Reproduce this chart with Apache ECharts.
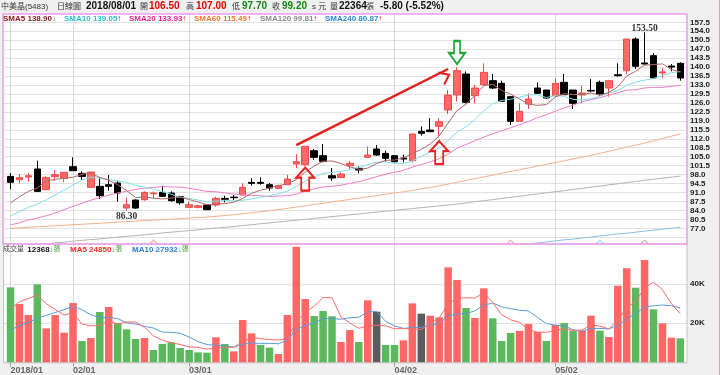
<!DOCTYPE html>
<html>
<head>
<meta charset="utf-8">
<script src="https://cdn.jsdelivr.net/npm/echarts@6.0.0/dist/echarts.min.js"></script>
<style>
html,body{margin:0;padding:0;background:#f0f0f0;}
#chart{width:720px;height:375px;}
</style>
</head>
<body>
<div id="chart"></div>
<script>
// ---------------- data ----------------
const dates = [
 '2018/01/23','2018/01/24','2018/01/25','2018/01/26','2018/01/29','2018/01/30','2018/01/31',
 '2018/02/01','2018/02/02','2018/02/05','2018/02/06','2018/02/07','2018/02/08','2018/02/09','2018/02/12','2018/02/21','2018/02/22','2018/02/23','2018/02/26','2018/02/27',
 '2018/03/01','2018/03/02','2018/03/05','2018/03/06','2018/03/07','2018/03/08','2018/03/09','2018/03/12','2018/03/13','2018/03/14','2018/03/15','2018/03/16','2018/03/19','2018/03/20','2018/03/21','2018/03/22','2018/03/23','2018/03/26','2018/03/27','2018/03/28','2018/03/29','2018/03/30','2018/03/31',
 '2018/04/02','2018/04/03','2018/04/09','2018/04/10','2018/04/11','2018/04/12','2018/04/13','2018/04/16','2018/04/17','2018/04/18','2018/04/19','2018/04/20','2018/04/23','2018/04/24','2018/04/25','2018/04/26','2018/04/27','2018/04/30',
 '2018/05/02','2018/05/03','2018/05/04','2018/05/07','2018/05/08','2018/05/09','2018/05/10','2018/05/11','2018/05/14','2018/05/15','2018/05/16','2018/05/17','2018/05/18','2018/05/21','2018/05/22'
];
const opens = [97.30,96.00,97.04,100.17,92.09,97.17,96.52,101.08,98.48,93.00,
 93.40,94.05,94.70,84.93,88.06,88.19,90.50,91.05,90.79,89.36,
 85.19,85.19,86.10,86.10,88.71,89.20,90.01,94.96,94.96,94.05,
 92.61,94.05,102.12,101.86,107.33,105.38,97.56,96.91,101.47,100.43,
 104.73,107.98,106.29,105.38,104.47,103.43,114.89,115.41,116.84,123.23,
 129.09,137.29,128.83,133.12,134.69,133.65,128.44,118.80,125.57,131.82,
 131.04,128.83,134.04,131.04,129.09,130.90,134.04,131.82,137.00,138.60,
 150.97,141.60,144.46,137.70,140.40,141.46];
const closes = [94.96,96.78,97.56,91.44,96.91,97.95,98.87,99.52,97.30,99.00,
 89.75,93.40,90.79,86.23,84.93,91.05,90.80,89.49,87.79,87.00,
 86.23,85.84,84.28,88.71,88.32,88.97,93.00,94.57,94.57,92.74,
 93.66,96.26,103.03,109.03,104.73,103.17,96.65,98.22,102.38,99.78,
 105.64,105.64,104.34,103.03,104.08,113.85,114.11,114.76,118.67,129.09,
 138.60,126.22,131.82,137.94,131.82,126.61,118.80,122.70,127.52,129.74,
 127.91,133.65,129.22,125.83,129.87,130.65,129.48,134.69,136.65,150.97,
 140.29,141.20,135.73,138.10,140.00,135.73];
const lows = [92.35,94.57,95.22,91.44,92.09,95.61,94.96,99.52,96.00,93.00,
 88.45,91.70,87.40,83.89,84.54,87.79,88.71,89.36,87.40,86.23,
 85.19,84.80,84.28,85.45,87.14,88.06,90.01,93.66,94.05,91.70,
 92.35,94.05,100.56,101.47,103.82,102.77,95.61,96.65,100.17,98.48,
 104.47,105.38,103.03,102.77,102.77,102.77,113.20,114.76,112.54,121.66,
 126.61,125.83,125.83,132.73,131.43,126.61,117.36,118.80,123.62,129.74,
 127.52,128.44,129.22,123.62,125.83,130.13,128.83,128.44,136.25,137.29,
 139.25,140.94,135.34,135.73,138.34,134.69];
const highs = [98.61,98.22,98.61,103.43,97.30,99.78,98.87,104.73,99.26,99.00,
 96.91,97.82,95.61,89.10,88.32,91.44,91.44,93.66,91.44,89.75,
 87.53,86.23,86.23,89.36,89.75,90.01,94.57,96.52,96.91,94.70,
 94.05,97.95,106.03,109.03,107.98,109.94,100.56,98.87,103.43,101.21,
 108.90,109.55,107.33,105.38,105.77,113.85,116.84,120.10,119.97,131.04,
 139.90,138.34,133.12,141.46,137.29,134.69,128.44,125.83,129.74,134.04,
 131.04,135.60,137.29,131.04,132.73,135.34,134.69,134.69,141.46,150.97,
 151.62,153.58,145.50,139.64,141.20,141.85];

const sma5 = [86.88,89.36,91.44,92.74,95.53,96.13,96.55,96.94,98.11,98.53,
 96.89,95.79,94.05,91.83,89.02,89.28,88.76,88.50,88.81,89.23,
 88.26,87.27,86.23,86.41,86.68,87.22,88.66,90.71,91.89,92.77,
 93.71,94.36,96.05,98.94,101.34,103.24,103.32,102.36,101.03,100.04,
 100.53,102.33,103.56,103.69,104.55,106.19,107.88,109.97,113.09,118.10,
 123.05,125.47,128.88,132.73,133.28,130.88,129.40,127.57,125.49,125.07,
 125.33,128.30,129.61,129.27,129.30,129.84,129.01,130.10,132.27,136.49,
 138.42,140.76,140.97,141.26,139.06,138.15];
const sma10 = [81.9,83.5,85.2,86.5,88.2,90.0,92.0,94.0,95.8,97.03,
 96.51,96.17,95.49,94.97,93.77,93.08,92.28,91.27,90.32,89.12,
 88.77,88.02,87.36,87.61,87.95,87.74,87.96,88.47,89.15,89.72,
 90.47,91.51,93.38,95.42,97.06,98.48,98.84,99.21,99.99,100.69,
 101.89,102.83,102.96,102.36,102.29,103.36,105.11,106.76,108.39,111.32,
 114.62,116.68,119.42,122.91,125.69,126.96,127.43,128.23,129.11,129.18,
 128.11,128.85,128.59,127.38,127.19,127.59,128.66,129.86,130.77,132.89,
 134.13,134.89,135.54,136.76,137.78,138.28];
const sma20 = [78.28,79.2,80.24,81.0,81.93,82.97,84.3,85.6,86.8,88.0,
 89.0,90.0,90.8,91.5,92.2,92.7,93.0,93.3,93.2,93.08,
 92.64,92.09,91.43,91.29,90.86,90.41,90.12,89.87,89.74,89.42,
 89.62,89.76,90.37,91.51,92.50,93.11,93.40,93.84,94.57,95.21,
 96.18,97.17,98.17,98.89,99.67,100.92,101.97,102.98,104.19,106.01,
 108.25,109.75,111.19,112.64,113.99,115.16,116.27,117.49,118.75,120.25,
 121.36,122.76,124.01,125.15,126.44,127.28,128.05,129.04,129.94,131.03,
 131.12,131.87,132.06,132.07,132.48,132.94];
const sma60 = [77.0,77.2,77.4,77.6,77.8,78.0,78.2,78.4,78.6,78.8,
 79.0,79.2,79.4,79.6,79.8,80.0,80.2,80.4,80.6,80.8,
 81.0,81.2,81.4,81.7,82.0,82.3,82.7,83.1,83.5,83.9,
 84.3,84.8,85.3,85.8,86.3,86.8,87.3,87.8,88.3,88.8,
 89.3,89.8,90.3,90.8,91.3,91.8,92.4,93.0,93.6,94.3,
 95.0,95.7,96.4,97.1,97.8,98.5,99.2,99.9,100.6,101.3,
 102.0,102.7,103.4,104.1,104.8,105.5,106.3,107.1,107.9,108.7,
 109.5,110.3,111.2,112.1,113.0,113.9];
const sma120 = [69.8,70.1,70.4,70.7,71.0,71.3,71.6,72.0,72.3,72.6,
 72.9,73.2,73.6,73.9,74.2,74.5,74.8,75.2,75.5,75.8,
 76.1,76.4,76.8,77.1,77.4,77.7,78.1,78.4,78.8,79.1,
 79.5,79.8,80.2,80.5,80.9,81.2,81.6,81.9,82.3,82.6,
 83.0,83.3,83.7,84.0,84.4,84.7,85.1,85.4,85.8,86.1,
 86.5,86.9,87.4,87.8,88.2,88.7,89.1,89.5,90.0,90.4,
 90.9,91.3,91.7,92.2,92.6,93.1,93.5,94.0,94.4,94.9,
 95.3,95.8,96.2,96.6,97.0,97.4];
const sma240 = [null,null,null,null,null,null,null,null,null,null,
 null,null,null,null,null,null,null,null,null,null,
 null,null,null,null,null,null,null,null,null,null,
 null,null,null,null,null,null,null,null,null,null,
 null,null,null,null,null,null,null,null,null,null,
 null,null,null,null,null,null,70.1,70.5,70.9,71.3,
 71.7,72.1,72.5,72.8,73.2,73.6,74.0,74.4,74.8,75.1,
 75.5,75.9,76.3,76.7,77.0,77.4];

const volumes = [38300,29820,24220,39820,17440,24220,15230,30330,10990,12520,
 25750,28290,20150,16930,12010,12520,6410,9460,10310,7430,
 6410,5220,5050,12860,9460,5730,21680,14890,8950,7600,
 4380,24220,58990,32360,23710,26250,23540,10480,16590,10480,
 31680,25910,8950,8950,11330,30150,24900,23880,23030,48470,
 42030,27780,22690,37790,22520,10990,15060,16080,19640,15570,
 10990,19130,20150,16250,16250,23880,16250,13030,39140,47960,
 38130,52200,27100,19980,12690,12368];
// 1 = close above previous close (red), -1 = below (green), 0 = unchanged (grey)
const volDir = [-1,1,1,-1,1,1,1,1,-1,1,
 -1,1,-1,-1,-1,1,-1,-1,-1,-1,
 -1,-1,-1,1,-1,1,1,1,-1,-1,
 1,1,1,1,-1,-1,-1,1,1,-1,
 1,0,-1,-1,1,1,0,1,1,1,
 1,-1,1,1,-1,-1,-1,1,1,1,
 -1,1,-1,-1,1,1,-1,1,1,1,
 -1,1,-1,1,1,-1];
const volMa5 = [27270,31000,32600,34500,29920,27104,24186,25408,19642,18658,
 18964,21576,19540,20728,20626,17980,13604,11466,10142,9226,
 8004,7766,6884,7394,7800,7664,10956,12924,12142,11770,
 11500,12008,20828,25510,28732,33106,32970,23268,20114,17468,
 18554,19028,18722,17194,17364,17058,16856,19842,22658,30086,
 32462,33038,32800,35752,30562,24354,21810,20488,16858,15468,
 15468,16282,17096,16418,16554,19132,18556,17132,21710,28052,
 30902,38092,40906,37074,30020,24868];
const volMa10 = [16590,18790,20490,22500,24000,25500,27000,28500,27000,24289,
 23034,22881,22474,20185,19642,18472,17590,15503,15435,14926,
 12992,10685,9175,8768,8513,7834,9361,9904,9768,9785,
 9582,11482,16876,18826,20251,22303,22489,22048,22812,23100,
 25830,25999,20995,18654,17416,17806,17942,19282,19926,23725,
 24760,24947,26321,29205,30324,28408,27424,26644,26305,23015,
 19911,19046,18792,16638,16011,17300,17419,17114,19064,22203,
 24917,28224,28919,29295,28939,27788];

// annotation texts and anchors (category index, price)
const peakNote = {i: 71, text: '153.50'};
const troughNote = {i: 13, text: '86.30'};
const upArrows = [[33, 96.26], [48, 106.6]];
const downArrows = [[50, 145.7]];
const trendLine = [[32, 109.5], [49, 139.25]];
const signalMarks = [[16, '#f2a48c'], [56, '#f0a0c8'], [66, '#8edbe6'], [71, '#cfa0a0']];

const headerItems = [
 ['中美晶(5483)', 'cjk'], ['日線圖', 'cjk'], ['2018/08/01', 'b'],
 ['開', 'cjk'], ['106.50', 'r'], ['高', 'cjk'], ['107.00', 'r'],
 ['低', 'cjk'], ['97.70', 'g'], ['收', 'cjk'], ['99.20', 'g'], ['s 元', 'cjk'],
 ['量', 'cjk'], ['22364', 'b'], ['張', 'cjk'], ['-5.80 (-5.52%)', 'b']
];
const headerX = [1, 57, 86, 140, 149, 186, 196, 232, 242, 272, 282, 312, 330, 339, 366, 380];

const smaLegend = [
 ['SMA5', '138.90', -1, '#8b2020'],
 ['SMA10', '139.05', 1, '#2fbfd0'],
 ['SMA20', '133.93', 1, '#e8248c'],
 ['SMA60', '115.49', 1, '#f07a36'],
 ['SMA120', '99.81', 1, '#8a8a8a'],
 ['SMA240', '80.87', 1, '#2a8ad6']
];
const smaLegendX = [3, 64, 129, 194, 260, 325];
const volLegend = {total: '12368', ma5: '24850', ma10: '27932'};

// ---------------- chart ----------------
const FF = "'Liberation Sans','Noto Sans CJK TC','Noto Sans CJK SC',sans-serif";
const isMonthStart = (i) => i === 0 || dates[i].slice(5, 7) !== dates[i - 1].slice(5, 7);
const candleData = dates.map((d, i) => [opens[i], closes[i], lows[i], highs[i]]);
const volData = volumes.map((v, i) => ({
  value: v,
  itemStyle: {color: volDir[i] > 0 ? '#ff6666' : (volDir[i] < 0 ? '#5cb85c' : '#5b5b5b')}
}));

const upPath = 'path://M9,0 L18,10 L13,10 L13,23 L5,23 L5,10 L0,10 Z';
const downPath = 'path://M5,0 L11,0 L11,12 L16,12 L8,23 L0,12 L5,12 Z';
const chevronUp = 'path://M0,10 L7,0 L14,10 L12.4,11.2 L7,3.4 L1.6,11.2 Z';

const markPoints = [];
markPoints.push({coord: [peakNote.i, highs[peakNote.i]], symbol: 'circle', symbolSize: 1,
  itemStyle: {color: 'rgba(0,0,0,0)'},
  label: {show: true, position: 'inside', offset: [0, -4], formatter: peakNote.text,
    fontFamily: "'Liberation Serif',serif", fontSize: 9.5, fontWeight: 'bold', color: '#333'}});
markPoints.push({coord: [troughNote.i, lows[troughNote.i]], symbol: 'circle', symbolSize: 1,
  itemStyle: {color: 'rgba(0,0,0,0)'},
  label: {show: true, position: 'inside', offset: [0, 5.5], formatter: troughNote.text,
    fontFamily: "'Liberation Serif',serif", fontSize: 9.5, fontWeight: 'bold', color: '#333'}});
upArrows.forEach(c => markPoints.push({coord: c, symbol: upPath, symbolSize: [18, 23],
  itemStyle: {color: 'rgba(255,255,255,0)', borderColor: '#ee2222', borderWidth: 2}, label: {show: false}}));
downArrows.forEach(c => markPoints.push({coord: c, symbol: downPath, symbolSize: [16, 23],
  itemStyle: {color: 'rgba(255,255,255,0)', borderColor: '#22a83a', borderWidth: 2}, label: {show: false}}));
signalMarks.forEach(s => markPoints.push({coord: [s[0], 71.7], symbol: 'path://M0,5 L4.5,0 L9,5 L8,5.6 L4.5,1.6 L1,5.6 Z',
  symbolSize: [9, 5], itemStyle: {color: s[1]}, label: {show: false}}));

const graphics = [
  {type: 'rect', z: -10, silent: true, shape: {x: 3, y: 14, width: 684, height: 230}, style: {fill: '#ffffff'}},
  {type: 'rect', z: -10, silent: true, shape: {x: 3, y: 244, width: 684, height: 119}, style: {fill: '#ffffff'}},
  {type: 'rect', z: 100, silent: true, shape: {x: 3.5, y: 244, width: 683.5, height: 118.8}, style: {fill: 'none', stroke: '#c4c4c4', lineWidth: 1}},
  {type: 'rect', z: 100, silent: true, shape: {x: 3, y: 14, width: 684, height: 230}, style: {fill: 'none', stroke: '#ee9bee', lineWidth: 1.5}},
  {type: 'line', z: 100, silent: true, shape: {x1: 719.5, y1: 0, x2: 719.5, y2: 375}, style: {stroke: '#f09c9c', lineWidth: 1}}
];
const hStyle = {
  cjk: {font: '8px ' + FF, fill: '#333'},
  b: {font: 'bold 10px ' + FF, fill: '#111'},
  r: {font: 'bold 10px ' + FF, fill: '#e60000'},
  g: {font: 'bold 10px ' + FF, fill: '#118811'}
};
headerItems.forEach((h, k) => graphics.push({type: 'text', z: 110, silent: true, x: headerX[k], y: 6.5,
  style: Object.assign({text: h[0], verticalAlign: 'middle'}, hStyle[h[1]])}));
smaLegend.forEach((s, k) => graphics.push({type: 'text', z: 110, silent: true, x: smaLegendX[k], y: 18.5,
  style: {text: '{t|' + s[0] + ' ' + s[1] + '}{a|' + (s[2] > 0 ? '↑' : '↓') + '}', verticalAlign: 'middle',
    rich: {t: {font: 'bold 8px ' + FF, fill: s[3]}, a: {font: 'bold 8px ' + FF, fill: s[2] > 0 ? '#ee1111' : '#11aa11'}}}}));
graphics.push({type: 'text', z: 110, silent: true, x: 3, y: 249.5, style: {
  text: '{c|成交量} {n|' + volLegend.total + '}{a|↓}{z|張}', verticalAlign: 'middle',
  rich: {c: {font: '7px ' + FF, fill: '#444'}, n: {font: 'bold 8px ' + FF, fill: '#111'},
    a: {font: 'bold 8px ' + FF, fill: '#11aa11'}, z: {font: '7px ' + FF, fill: '#4a9a4a'}}}});
graphics.push({type: 'text', z: 110, silent: true, x: 70, y: 249.5, style: {
  text: '{m|MA5 ' + volLegend.ma5 + '}{a|↓}{z|張}', verticalAlign: 'middle',
  rich: {m: {font: 'bold 8px ' + FF, fill: '#ff2a2a'}, a: {font: 'bold 8px ' + FF, fill: '#11aa11'}, z: {font: '7px ' + FF, fill: '#4a9a4a'}}}});
graphics.push({type: 'text', z: 110, silent: true, x: 132, y: 249.5, style: {
  text: '{m|MA10 ' + volLegend.ma10 + '}{a|↓}{z|張}', verticalAlign: 'middle',
  rich: {m: {font: 'bold 8px ' + FF, fill: '#2a7fd4'}, a: {font: 'bold 8px ' + FF, fill: '#11aa11'}, z: {font: '7px ' + FF, fill: '#4a9a4a'}}}});

const lineS = (data, color, w) => ({type: 'line', xAxisIndex: 1, yAxisIndex: 1, data, showSymbol: false, symbol: 'none',
  lineStyle: {color, width: w || 1}, silent: true, animation: false, z: 3});

const option = {
  backgroundColor: '#f0f0f0',
  animation: false,
  grid: [
    {left: 3, width: 684, top: 22.3, height: 215, outerBoundsMode: 'none', containLabel: false},
    {left: 10.5, width: 669.8, top: 14, height: 230, outerBoundsMode: 'none', containLabel: false},
    {left: 3, width: 684, top: 283.9, height: 78.7, outerBoundsMode: 'none', containLabel: false},
    {left: 10.5, width: 669.8, top: 244, height: 118.6, outerBoundsMode: 'none', containLabel: false}
  ],
  xAxis: [
    {type: 'category', gridIndex: 0, data: dates, show: false},
    {type: 'category', gridIndex: 1, data: dates, boundaryGap: false,
      axisLine: {show: false}, axisTick: {show: false}, axisLabel: {show: false},
      splitLine: {show: true, interval: (i) => isMonthStart(i), lineStyle: {color: '#dadada', width: 1}}},
    {type: 'category', gridIndex: 2, data: dates, show: false},
    {type: 'category', gridIndex: 3, data: dates, boundaryGap: false,
      axisLine: {show: false},
      axisTick: {show: true, interval: (i) => isMonthStart(i), length: 4, lineStyle: {color: '#999'}},
      axisLabel: {show: true, interval: (i) => isMonthStart(i), align: 'left', margin: 3,
        formatter: (v, i) => i === 0 ? v.slice(0, 7) : v.slice(5),
        fontFamily: FF, fontSize: 9, fontWeight: 'bold', color: '#666'},
      splitLine: {show: true, interval: (i) => isMonthStart(i), lineStyle: {color: '#dadada', width: 1}}}
  ],
  yAxis: [
    {type: 'value', gridIndex: 0, position: 'right', min: 73.5, max: 157.5, interval: 3.5,
      axisLine: {show: false}, axisTick: {show: false},
      axisLabel: {margin: 3, formatter: (v) => v < 76 ? '' : v.toFixed(1), fontFamily: FF, fontSize: 8, fontWeight: 'bold', color: '#222'},
      splitLine: {show: true, lineStyle: {color: '#e2e2e2', width: 1}}},
    {type: 'value', gridIndex: 1, min: 70.88, max: 160.74, show: false, splitLine: {show: false}},
    {type: 'value', gridIndex: 2, position: 'right', min: 0, max: 40000, interval: 20000,
      axisLine: {show: false}, axisTick: {show: false},
      axisLabel: {margin: 3, formatter: (v) => v === 0 ? '' : (v / 1000) + 'K', fontFamily: FF, fontSize: 8, fontWeight: 'bold', color: '#222'},
      splitLine: {show: true, lineStyle: {color: '#e2e2e2', width: 1}}},
    {type: 'value', gridIndex: 3, min: 0, max: 60356, show: false, splitLine: {show: false}}
  ],
  graphic: graphics,
  series: [
    {type: 'candlestick', xAxisIndex: 1, yAxisIndex: 1, data: candleData, barWidth: 7, clip: false, silent: true, z: 2,
      itemStyle: {color: '#ff6868', color0: '#000000', borderColor: '#f04a4a', borderColor0: '#000000', borderWidth: 1},
      markPoint: {silent: true, animation: false, data: markPoints},
      markLine: {silent: true, animation: false, symbol: ['none', chevronUp], symbolSize: [15, 11], symbolOffset: [0, 5.5],
        label: {show: false}, lineStyle: {color: '#e81e1e', width: 2.5, type: 'solid'},
        data: [[{coord: trendLine[0]}, {coord: trendLine[1]}]]}},
    lineS(sma240, '#86c0ea'),
    lineS(sma120, '#b4b4b4'),
    lineS(sma60, '#f6b08a'),
    lineS(sma20, '#f07cc8'),
    lineS(sma10, '#7fdfe6'),
    lineS(sma5, '#b06868'),
    {type: 'bar', xAxisIndex: 3, yAxisIndex: 3, data: volData, barWidth: 7.5, clip: false, silent: true},
    {type: 'line', xAxisIndex: 3, yAxisIndex: 3, data: volMa10, showSymbol: false, symbol: 'none', silent: true,
      lineStyle: {color: '#5a9ad8', width: 1}},
    {type: 'line', xAxisIndex: 3, yAxisIndex: 3, data: volMa5, showSymbol: false, symbol: 'none', silent: true,
      lineStyle: {color: '#ff6a6a', width: 1}}
  ]
};
const chart = echarts.init(document.getElementById('chart'), null, {renderer: 'canvas', width: 720, height: 375});
chart.setOption(option);
</script>
</body>
</html>
